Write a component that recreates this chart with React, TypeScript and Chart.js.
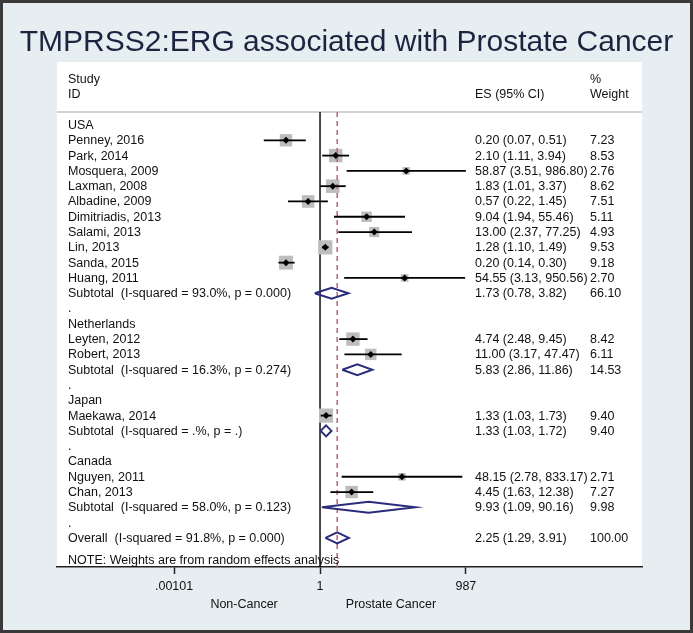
import React, { useEffect, useRef } from "react";
import { Chart, registerables } from "chart.js";

Chart.register(...registerables);

// ---------------- Data ----------------
const groupNames = ["USA", "Netherlands", "Japan", "Canada"];

const studyNames = [
  "Penney, 2016",
  "Park, 2014",
  "Mosquera, 2009",
  "Laxman, 2008",
  "Albadine, 2009",
  "Dimitriadis, 2013",
  "Salami, 2013",
  "Lin, 2013",
  "Sanda, 2015",
  "Huang, 2011",
  "Leyten, 2012",
  "Robert, 2013",
  "Maekawa, 2014",
  "Nguyen, 2011",
  "Chan, 2013",
];
const studyGroup = [0, 0, 0, 0, 0, 0, 0, 0, 0, 0, 1, 1, 2, 3, 3];
const studyES = [0.2, 2.1, 58.87, 1.83, 0.57, 9.04, 13.0, 1.28, 0.2, 54.55, 4.74, 11.0, 1.33, 48.15, 4.45];
const studyLow = [0.07, 1.11, 3.51, 1.01, 0.22, 1.94, 2.37, 1.1, 0.14, 3.13, 2.48, 3.17, 1.03, 2.78, 1.63];
const studyHigh = [0.51, 3.94, 986.8, 3.37, 1.45, 55.46, 77.25, 1.49, 0.3, 950.56, 9.45, 47.47, 1.73, 833.17, 12.38];
const studyWeight = [7.23, 8.53, 2.76, 8.62, 7.51, 5.11, 4.93, 9.53, 9.18, 2.7, 8.42, 6.11, 9.4, 2.71, 7.27];

const subtotalES = [1.73, 5.83, 1.33, 9.93];
const subtotalLow = [0.78, 2.86, 1.03, 1.09];
const subtotalHigh = [3.82, 11.86, 1.72, 90.16];
const subtotalWeight = [66.1, 14.53, 9.4, 9.98];
const subtotalI2 = ["93.0", "16.3", ".", "58.0"];
const subtotalP = ["0.000", "0.274", ".", "0.123"];

const overallES = 2.25;
const overallLow = 1.29;
const overallHigh = 3.91;
const overallWeight = 100.0;
const overallI2 = "91.8";
const overallP = "0.000";

const xTickValues = [0.00101, 1, 987];
const xTickLabels = [".00101", "1", "987"];
const favourLabels = ["Non-Cancer", "Prostate Cancer"];

const titleText = "TMPRSS2:ERG associated with Prostate Cancer";
const noteText = "NOTE: Weights are from random effects analysis";

// ---------------- Layout / style ----------------
const W = 693;
const H = 633;
const FONT = '"Liberation Sans", Arial, Helvetica, sans-serif';
const TEXT = "#111111";
const NAVY = "#2b2d7c";
const BOX = "#bdbdbd";
const DASH = "#b9686a";
const BG = "#e7eef1";
const PANEL = { left: 57, top: 62, right: 642, bottom: 567 };
const HEADER_LINE_Y = 112;
const COL_LABEL = 68;
const COL_ES = 475;
const COL_W = 590;
const Y_MIN = -0.85;
const Y_MAX = 28.9;
const X_MIN = Math.pow(10, -5.4);
const X_MAX = Math.pow(10, 6.61);
const DIAMOND_HALF = 0.36; // in row units
const TEXT_SIZE = 12.5;

const fmt = (v: number) => v.toFixed(2);

type Row = { label: string; es?: string; w?: string; kind: string };

// Build the table rows from the grouped data
const rows: Row[] = [];
const studyRow: number[] = [];
const subtotalRow: number[] = [];
groupNames.forEach((g, gi) => {
  rows.push({ label: g, kind: "group" });
  studyNames.forEach((s, si) => {
    if (studyGroup[si] !== gi) return;
    studyRow[si] = rows.length;
    rows.push({
      label: s,
      kind: "study",
      es: `${fmt(studyES[si])} (${fmt(studyLow[si])}, ${fmt(studyHigh[si])})`,
      w: fmt(studyWeight[si]),
    });
  });
  subtotalRow[gi] = rows.length;
  rows.push({
    label: `Subtotal  (I-squared = ${subtotalI2[gi]}%, p = ${subtotalP[gi]})`,
    kind: "subtotal",
    es: `${fmt(subtotalES[gi])} (${fmt(subtotalLow[gi])}, ${fmt(subtotalHigh[gi])})`,
    w: fmt(subtotalWeight[gi]),
  });
  rows.push({ label: ".", kind: "blank" });
});
const overallRow = rows.length;
rows.push({
  label: `Overall  (I-squared = ${overallI2}%, p = ${overallP})`,
  kind: "overall",
  es: `${fmt(overallES)} (${fmt(overallLow)}, ${fmt(overallHigh)})`,
  w: fmt(overallWeight),
});
const noteRow = rows.length + 0.45;

const diamond = (es: number, lo: number, hi: number, r: number) => [
  { x: lo, y: r },
  { x: es, y: r - DIAMOND_HALF },
  { x: hi, y: r },
  { x: es, y: r + DIAMOND_HALF },
  { x: lo, y: r },
];

const decorPlugin = {
  id: "forestDecor",
  beforeDraw(chart: any) {
    const ctx = chart.ctx;
    ctx.save();
    ctx.fillStyle = BG;
    ctx.fillRect(0, 0, W, H);
    ctx.strokeStyle = "#3a3a3a";
    ctx.lineWidth = 3;
    ctx.strokeRect(1.5, 1.5, W - 3, H - 3);
    ctx.fillStyle = "#ffffff";
    ctx.fillRect(PANEL.left, PANEL.top, PANEL.right - PANEL.left, PANEL.bottom - PANEL.top);
    ctx.strokeStyle = "#c4c4c4";
    ctx.lineWidth = 1.5;
    ctx.beginPath();
    ctx.moveTo(PANEL.left, HEADER_LINE_Y);
    ctx.lineTo(PANEL.right, HEADER_LINE_Y);
    ctx.stroke();
    ctx.restore();
  },
  afterDraw(chart: any) {
    const ctx = chart.ctx;
    const y = chart.scales.y;
    const x = chart.scales.x;
    ctx.save();
    // title
    ctx.fillStyle = "#1c2540";
    ctx.font = `30px ${FONT}`;
    ctx.textAlign = "center";
    ctx.textBaseline = "middle";
    ctx.fillText(titleText, W / 2, 43);

    ctx.fillStyle = TEXT;
    ctx.font = `${TEXT_SIZE}px ${FONT}`;
    ctx.textAlign = "left";
    ctx.textBaseline = "middle";
    ctx.fillText("Study", COL_LABEL, 80);
    ctx.fillText("ID", COL_LABEL, 95);
    ctx.fillText("ES (95% CI)", COL_ES, 95);
    ctx.fillText("%", COL_W, 80);
    ctx.fillText("Weight", COL_W, 95);

    rows.forEach((r, i) => {
      const py = y.getPixelForValue(i) + 0.5;
      ctx.fillText(r.label, COL_LABEL, py);
      if (r.es) ctx.fillText(r.es, COL_ES, py);
      if (r.w) ctx.fillText(r.w, COL_W, py);
    });
    ctx.fillText(noteText, COL_LABEL, y.getPixelForValue(noteRow));

    // favour labels centred between ticks
    ctx.textAlign = "center";
    const p0 = x.getPixelForValue(xTickValues[0]);
    const p1 = x.getPixelForValue(xTickValues[1]);
    const p2 = x.getPixelForValue(xTickValues[2]);
    ctx.fillText(favourLabels[0], (p0 + p1) / 2 - 3, 605);
    ctx.fillText(favourLabels[1], (p1 + p2) / 2 - 2, 605);
    ctx.restore();
  },
};

export default function App() {
  const ref = useRef<HTMLCanvasElement>(null);

  useEffect(() => {
    document.body.style.margin = "0";
    const canvas = ref.current;
    if (!canvas) return;

    const datasets: any[] = [];
    // reference line at 1
    datasets.push({
      data: [
        { x: 1, y: Y_MIN },
        { x: 1, y: Y_MAX },
      ],
      showLine: true,
      borderColor: "#111111",
      borderWidth: 1.5,
      pointRadius: 0,
      order: 10,
    });
    // weight boxes
    datasets.push({
      data: studyES.map((v, i) => ({ x: v, y: studyRow[i] })),
      pointStyle: "rect",
      pointRadius: studyWeight.map((w) => (4.6 * Math.sqrt(w)) / Math.SQRT2),
      backgroundColor: BOX,
      borderWidth: 0,
      order: 9,
    });
    // overall dashed line
    datasets.push({
      data: [
        { x: overallES, y: Y_MIN },
        { x: overallES, y: Y_MAX },
      ],
      showLine: true,
      borderColor: DASH,
      borderWidth: 1.5,
      borderDash: [5, 4],
      pointRadius: 0,
      order: 8,
    });
    // CI lines
    studyES.forEach((_, i) => {
      datasets.push({
        data: [
          { x: studyLow[i], y: studyRow[i] },
          { x: studyHigh[i], y: studyRow[i] },
        ],
        showLine: true,
        borderColor: "#000000",
        borderWidth: 1.8,
        pointRadius: 0,
        order: 5,
      });
    });
    // subtotal diamonds
    subtotalES.forEach((v, i) => {
      datasets.push({
        data: diamond(v, subtotalLow[i], subtotalHigh[i], subtotalRow[i]),
        showLine: true,
        borderColor: NAVY,
        borderWidth: 2,
        pointRadius: 0,
        fill: false,
        order: 3,
      });
    });
    datasets.push({
      data: diamond(overallES, overallLow, overallHigh, overallRow),
      showLine: true,
      borderColor: NAVY,
      borderWidth: 2,
      pointRadius: 0,
      fill: false,
      order: 3,
    });
    // point estimates
    datasets.push({
      data: studyES.map((v, i) => ({ x: v, y: studyRow[i] })),
      pointStyle: "rectRot",
      pointRadius: 3.5,
      backgroundColor: "#000000",
      borderWidth: 0,
      order: 2,
    });

    const chart = new Chart(canvas, {
      type: "scatter",
      data: { datasets },
      options: {
        animation: false,
        responsive: false,
        devicePixelRatio: 1,
        events: [],
        layout: {
          padding: { left: PANEL.left, right: W - PANEL.right, top: HEADER_LINE_Y, bottom: 0 },
        },
        plugins: {
          legend: { display: false },
          tooltip: { enabled: false },
          title: { display: false },
        },
        scales: {
          x: {
            type: "logarithmic",
            min: X_MIN,
            max: X_MAX,
            afterBuildTicks: (scale: any) => {
              scale.ticks = xTickValues.map((v) => ({ value: v }));
            },
            afterFit: (scale: any) => {
              scale.height = H - PANEL.bottom;
            },
            ticks: {
              autoSkip: false,
              maxRotation: 0,
              padding: 5,
              color: TEXT,
              font: { family: FONT, size: 12.5 },
              callback: (value: any) => {
                const idx = xTickValues.indexOf(Number(value));
                return idx >= 0 ? xTickLabels[idx] : "";
              },
            },
            grid: {
              display: true,
              drawOnChartArea: false,
              drawTicks: true,
              tickLength: 7,
              tickColor: "#222222",
              tickWidth: 1.5,
            },
            border: { display: true, color: "#222222", width: 1.5 },
          },
          y: {
            type: "linear",
            reverse: true,
            min: Y_MIN,
            max: Y_MAX,
            display: false,
          },
        },
      } as any,
      plugins: [decorPlugin],
    });
    return () => chart.destroy();
  }, []);

  return (
    <div style={{ position: "absolute", left: 0, top: 0, width: W, height: H }}>
      <canvas ref={ref} width={W} height={H} style={{ display: "block", width: W, height: H }} />
    </div>
  );
}
